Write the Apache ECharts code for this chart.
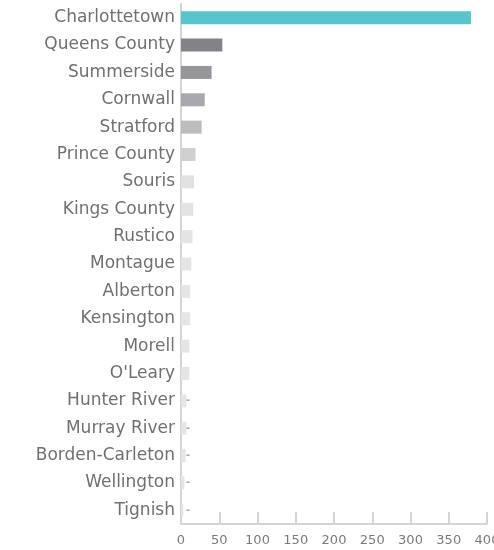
<!DOCTYPE html>
<html>
<head>
<meta charset="utf-8">
<script src="https://cdn.jsdelivr.net/npm/echarts@6/dist/echarts.min.js"></script>
<style>
  html, body { margin: 0; padding: 0; background: #fff; overflow: hidden; }
  #chart { width: 494px; height: 550px; }
</style>
</head>
<body>
<div id="chart"></div>
<script>
const categories = ['Charlottetown', 'Queens County', 'Summerside', 'Cornwall', 'Stratford',
  'Prince County', 'Souris', 'Kings County', 'Rustico', 'Montague', 'Alberton', 'Kensington',
  'Morell', "O'Leary", 'Hunter River', 'Murray River', 'Borden-Carleton', 'Wellington', 'Tignish']
const values = [379, 54, 40, 31, 27, 19, 17, 16, 15, 13.5, 12, 12, 11, 11, 7, 7, 6, 4.5, 3]
const barColors = ['#56c5cc', '#838387', '#96969a', '#a9a9ad', '#bdbdbf', '#d0d0d2',
  '#e2e2e4', '#e3e3e5', '#e4e4e6', '#e4e4e6', '#e5e5e7', '#e5e5e7', '#e5e5e7', '#e5e5e7',
  '#e5e5e7', '#e5e5e7', '#e5e5e7', '#e5e5e7', '#e5e5e7']
const dashed = ['Hunter River', 'Murray River', 'Borden-Carleton', 'Wellington', 'Tignish']
const xTicks = [0, 50, 100, 150, 200, 250, 300, 350, 400]

const chart = echarts.init(document.getElementById('chart'))

const data = values.map((v, i) => ({
  value: v,
  itemStyle: { color: barColors[i] },
  label: dashed.includes(categories[i])
    ? { show: true, position: 'insideLeft', distance: 0, offset: [5, 0], formatter: '-', color: '#aaa', fontSize: 12, fontWeight: 'bold' }
    : { show: false }
}))

chart.setOption({
  animation: false,
  grid: { left: 181, right: 7, top: 4, bottom: 26, outerBoundsMode: 'none' },
  xAxis: {
    type: 'value',
    min: xTicks[0],
    max: xTicks[xTicks.length - 1],
    interval: 50,
    splitLine: { show: false },
    axisLine: { show: true, lineStyle: { color: '#d4d4d4', width: 2 } },
    axisTick: { show: true, inside: true, length: 12, lineStyle: { color: '#d4d4d4', width: 2 } },
    axisLabel: { color: '#7a7a7a', fontSize: 13, margin: 10, fontFamily: 'DejaVu Sans' }
  },
  yAxis: {
    type: 'category',
    inverse: true,
    data: categories,
    axisLine: { show: true, lineStyle: { color: '#d4d4d4', width: 2 } },
    axisTick: { show: false },
    axisLabel: { color: '#707070', fontSize: 17, margin: 6, fontFamily: 'DejaVu Sans' }
  },
  series: [{
    type: 'bar',
    data,
    barWidth: 13
  }]
})
</script>
</body>
</html>
